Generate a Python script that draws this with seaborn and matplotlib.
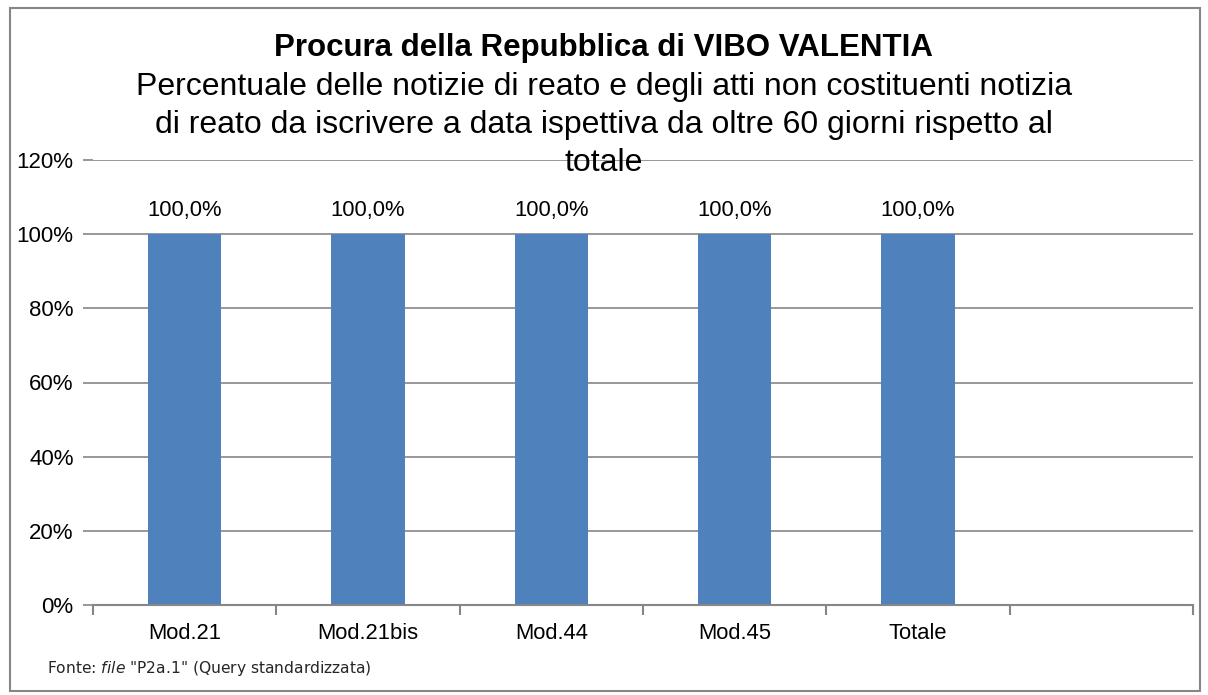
"""
Bar chart: percentuale notizie di reato da iscrivere (Procura di Vibo Valentia)
"""

import matplotlib
matplotlib.use('Agg')
import matplotlib.pyplot as plt
import seaborn as sns
import pandas as pd
from matplotlib.patches import Rectangle
from matplotlib.ticker import FuncFormatter, FixedLocator


# Data
categories = ['Mod.21', 'Mod.21bis', 'Mod.44', 'Mod.45', 'Totale']
values = [1.0, 1.0, 1.0, 1.0, 1.0]
value_labels = ['100,0%', '100,0%', '100,0%', '100,0%', '100,0%']
y_ticks = [0.0, 0.2, 0.4, 0.6, 0.8, 1.0, 1.2]
n_slots = 6  # the chart keeps one empty slot on the right

title = 'Procura della Repubblica di VIBO VALENTIA'
subtitle = ('Percentuale delle notizie di reato e degli atti non costituenti notizia\n'
            'di reato da iscrivere a data ispettiva da oltre 60 giorni rispetto al\n'
            'totale')

df = pd.DataFrame({'categoria': categories, 'valore': values})

sns.set_theme(style='white')
plt.rcParams['font.family'] = ['Liberation Sans', 'DejaVu Sans']
plt.rcParams['mathtext.fontset'] = 'dejavusans'

grid_color = '#868686'
bar_color = '#4F81BD'

fig = plt.figure(figsize=(12.08, 6.95), dpi=100)
ax = fig.add_axes([93 / 1208, 1 - 605 / 695, 1100 / 1208, 445 / 695])

sns.barplot(data=df, x='categoria', y='valore', color=bar_color,
            width=0.4, saturation=1, linewidth=0, ax=ax, zorder=3)

# Value labels above the bars
for i, (v, lab) in enumerate(zip(values, value_labels)):
    ax.text(i, v + 0.035, lab, ha='center', va='bottom', fontsize=15.8, color='black')

# Axes
ax.set_xlim(-0.5, n_slots - 0.5)
ax.set_ylim(0, 1.2)
ax.yaxis.set_major_locator(FixedLocator(y_ticks))
ax.yaxis.set_major_formatter(FuncFormatter(lambda x, p: f'{x * 100:.0f}%'))
ax.set_xlabel('')
ax.set_ylabel('')

ax.grid(True, axis='y', color=grid_color, linewidth=1.2, zorder=0)
ax.set_axisbelow(True)

for side in ['left', 'right', 'top']:
    ax.spines[side].set_visible(False)
ax.spines['bottom'].set_color(grid_color)
ax.spines['bottom'].set_linewidth(1.5)
ax.spines['bottom'].set_zorder(4)

ax.tick_params(axis='y', which='major', left=True, length=7, width=1.2,
               color=grid_color, labelsize=16, labelcolor='black', pad=7)
ax.tick_params(axis='x', which='major', length=0, labelsize=15.8,
               labelcolor='black', pad=13)
ax.set_xticks(range(len(categories)))
ax.set_xticklabels(categories)
ax.set_xticks([i - 0.5 for i in range(n_slots + 1)], minor=True)
ax.tick_params(axis='x', which='minor', bottom=True, length=7, width=1.5,
               color=grid_color)

# Titles
fig.text(0.5, 1 - 48 / 695, title, ha='center', va='center',
         fontsize=22.5, fontweight='bold', color='black')
fig.text(0.5, 1 - 125 / 695, subtitle, ha='center', va='center',
         fontsize=23, color='black', linespacing=1.33)

# Source note
fig.text(47 / 1208, 1 - 668 / 695,
         r'Fonte: $\it{file}$ "P2a.1" (Query standardizzata)',
         ha='left', va='center', fontsize=11.2, family='DejaVu Sans')

# Outer frame
fig.patches.append(Rectangle((10 / 1208, 4 / 695), 1190 / 1208, 683 / 695,
                             transform=fig.transFigure, fill=False,
                             edgecolor=grid_color, linewidth=1.5))

plt.savefig('out.png', dpi=100)
plt.close()
